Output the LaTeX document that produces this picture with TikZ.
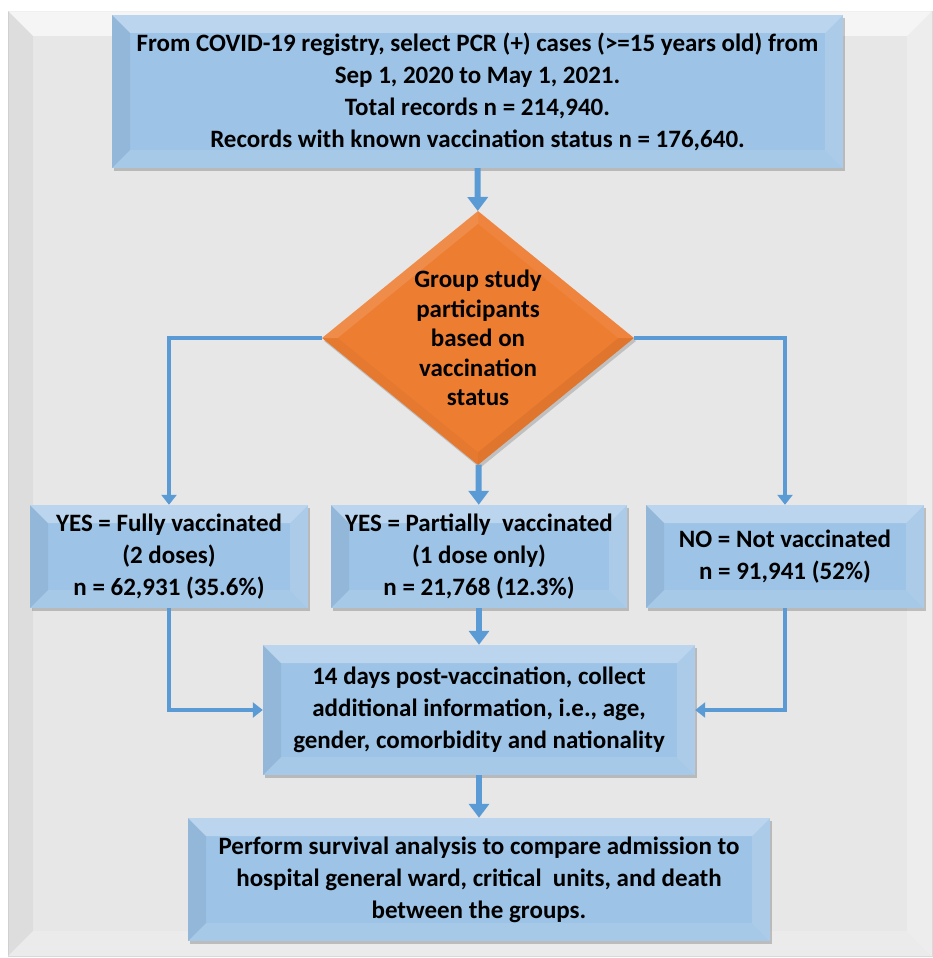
\documentclass[tikz,border=0pt]{standalone}
\usepackage{fontspec}
\setmainfont{Carlito}
\usepackage[]{tikz}
\usetikzlibrary{positioning,shapes.geometric,arrows.meta,shadows,calc}
\definecolor{boxblue}{RGB}{157,195,230}
\definecolor{lineblue}{RGB}{91,155,213}
\definecolor{orangefill}{RGB}{237,125,49}
\definecolor{framegrey}{RGB}{231,231,231}

\tikzset{
  boxtext/.style={font=\bfseries\fontsize{25}{32}\selectfont},
  bevelbox/.style={rectangle, fill=boxblue, align=center, inner sep=0pt, boxtext,
    drop shadow={shadow xshift=2pt,shadow yshift=-3pt,opacity=.35,fill=black!60},
    path picture={
      \path (path picture bounding box.north west) coordinate (bNW)
            (path picture bounding box.north east) coordinate (bNE)
            (path picture bounding box.south west) coordinate (bSW)
            (path picture bounding box.south east) coordinate (bSE);
      \fill[white,opacity=.3] (bNW) -- (bNE) -- ($(bNE)+(-18pt,-18pt)$) -- ($(bNW)+(18pt,-18pt)$) -- cycle;
      \fill[black,opacity=.06] (bNW) -- ($(bNW)+(18pt,-18pt)$) -- ($(bSW)+(18pt,18pt)$) -- (bSW) -- cycle;
      \fill[white,opacity=.15] (bNE) -- ($(bNE)+(-18pt,-18pt)$) -- ($(bSE)+(-18pt,18pt)$) -- (bSE) -- cycle;
      \fill[white,opacity=.1] (bSW) -- ($(bSW)+(18pt,18pt)$) -- ($(bSE)+(-18pt,18pt)$) -- (bSE) -- cycle;
    }},
  decision/.style={diamond, fill=orangefill, inner sep=0pt, aspect=1.23,
    minimum width=312pt, minimum height=254pt,
    drop shadow={shadow xshift=2pt,shadow yshift=-3pt,opacity=.3,fill=black!60},
    path picture={
      \path (path picture bounding box.north) coordinate (dN)
            (path picture bounding box.south) coordinate (dS)
            (path picture bounding box.east) coordinate (dE)
            (path picture bounding box.west) coordinate (dW)
            (path picture bounding box.center) coordinate (dC);
      \fill[white,opacity=.12] (dW) -- (dN) -- ($(dC)!.9!(dN)$) -- ($(dC)!.9!(dW)$) -- cycle;
      \fill[white,opacity=.06] (dN) -- (dE) -- ($(dC)!.9!(dE)$) -- ($(dC)!.9!(dN)$) -- cycle;
      \fill[black,opacity=.05] (dE) -- (dS) -- ($(dC)!.9!(dS)$) -- ($(dC)!.9!(dE)$) -- cycle;
      \fill[black,opacity=.03] (dS) -- (dW) -- ($(dC)!.9!(dW)$) -- ($(dC)!.9!(dS)$) -- cycle;
    }},
  mainarrow/.style={draw=lineblue, line width=6pt, -{Triangle[width=20pt,length=14pt]}},
  sidearrow/.style={draw=lineblue, line width=4pt, -{Triangle[width=15pt,length=10pt]}},
}

\begin{document}
\begin{tikzpicture}[x=1pt,y=-1pt]
        \useasboundingbox (0,0) rectangle (933,958);
        % 背景框
        \fill[framegrey,draw=black!15] (8,11) rectangle (932,956);
        \fill[white,opacity=.6] (8,11) -- (932,11) -- (907,36) -- (33,36) -- cycle;
        \fill[black,opacity=.04] (8,11) -- (33,36) -- (33,931) -- (8,956) -- cycle;
        \fill[white,opacity=.25] (932,11) -- (907,36) -- (907,931) -- (932,956) -- cycle;
        \fill[white,opacity=.2] (8,956) -- (33,931) -- (907,931) -- (932,956) -- cycle;

        \node[bevelbox, minimum width=731pt, minimum height=153pt] (registry) at (477.5,91.5)
          {From COVID-19 registry, select PCR (+) cases (>=15 years old) from\\
           Sep 1, 2020 to May 1, 2021.\\
           Total records n = 214,940.\\
           Records with known vaccination status n = 176,640.};
        \node[decision, label={[font=\bfseries\fontsize{25}{29.5}\selectfont,align=center]center:Group study\\participants\\based on\\vaccination\\status}] (group) at (478,338) {};

        \node[bevelbox, minimum width=278pt, minimum height=103pt] (full) at (169,556.5)
          {YES = Fully vaccinated\\(2 doses)\\n = 62,931 (35.6\%)};
        \node[bevelbox, minimum width=296pt, minimum height=103pt] (partial) at (479,556.5)
          {YES = Partially~ vaccinated\\(1 dose only)\\n = 21,768 (12.3\%)};
        \node[bevelbox, minimum width=278pt, minimum height=103pt] (none) at (785,556.5)
          {NO = Not vaccinated\\n = 91,941 (52\%)};

        \node[bevelbox, minimum width=432pt, minimum height=130pt] (collect) at (479,710)
          {14 days post-vaccination, collect\\additional information, i.e., age,\\gender, comorbidity and nationality};
        \node[bevelbox, minimum width=582pt, minimum height=123pt] (survival) at (479,879.5)
          {Perform survival analysis to compare admission to\\hospital general ward, critical~ units, and death\\between the groups.};

        % 连线
        \draw[mainarrow] (registry) -- (group);
        \draw[sidearrow] (group.west) -| (full);
        \draw[mainarrow] (group) -- (partial);
        \draw[sidearrow] (group.east) -| (none);
        \draw[mainarrow] (partial) -- (collect);
        \draw[sidearrow] (full) |- (collect.west);
        \draw[sidearrow] (none) |- (collect.east);
        \draw[mainarrow] (collect) -- (survival);
        \end{tikzpicture}
\end{document}
